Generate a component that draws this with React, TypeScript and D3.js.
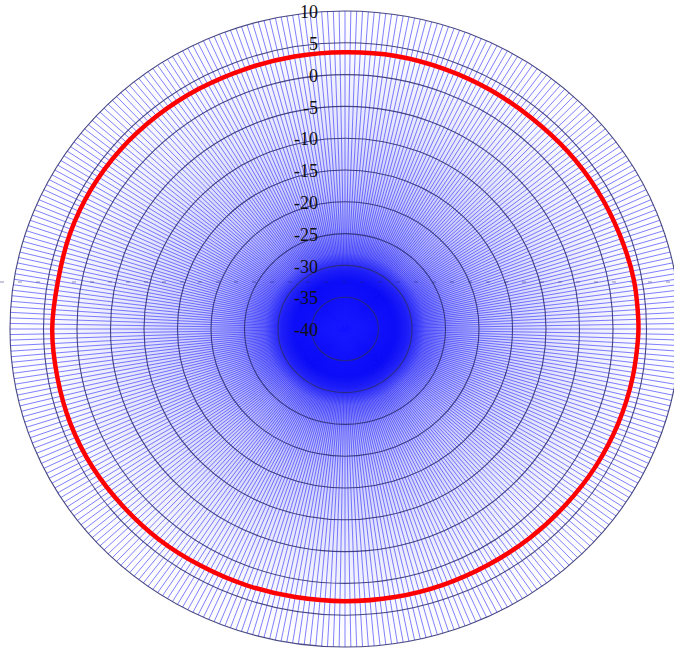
import React, { useEffect, useRef } from "react";
import * as d3 from "d3";

// ---- data ----
const ringLevels = [-40, -35, -30, -25, -20, -15, -10, -5, 0, 5, 10];
const tickLabels = ["-40", "-35", "-30", "-25", "-20", "-15", "-10", "-5", "0", "5", "10"];
const spokeAngles = d3.range(0, 360, 1);
const patternAngles = [0, 10, 20, 30, 40, 50, 60, 70, 80, 90, 100, 110, 120, 130, 140, 150, 160, 170,
  180, 190, 200, 210, 220, 230, 240, 250, 260, 270, 280, 290, 300, 310, 320, 330, 340, 350];
const patternGain = [3.5, 3.6, 3.5, 3.4, 3.3, 3.4, 3.5, 3.6, 3.8, 3.8, 3.6, 3.4, 3.2, 3.0, 2.9, 2.8, 2.8, 2.8,
  2.8, 2.8, 2.9, 3.0, 3.2, 3.3, 3.5, 3.6, 3.6, 3.7, 3.5, 3.7, 3.8, 3.8, 3.7, 3.6, 3.5, 3.5];

const W = 674, H = 653;

export default function App() {
  const ref = useRef<SVGSVGElement>(null);
  useEffect(() => {
    const svg = d3.select(ref.current);
    svg.selectAll("*").remove();
    const cx = 345, cy = 329, RX = 335, RY = 318;
    const rho = d3.scaleLinear().domain([-40, 10]).range([0, 1]);
    const px = (a: number, v: number) => cx + RX * rho(v) * Math.sin((a * Math.PI) / 180);
    const py = (a: number, v: number) => cy - RY * rho(v) * Math.cos((a * Math.PI) / 180);

    const defs = svg.append("defs");
    const grad = defs.append("radialGradient").attr("id", "core");
    const stops: [number, number][] = [[0, 1], [0.15, 1], [0.19, 0.85], [0.24, 0.5], [0.32, 0.32], [0.45, 0.2], [0.65, 0.1], [0.85, 0.03], [1, 0]];
    stops.forEach(([o, op]) => grad.append("stop").attr("offset", o).attr("stop-color", "#0000f0").attr("stop-opacity", op));

    const g = svg.append("g");
    g.append("ellipse").attr("cx", cx).attr("cy", cy).attr("rx", RX).attr("ry", RY).attr("fill", "url(#core)");
    // spokes
    g.selectAll("line.spoke").data(spokeAngles).join("line")
      .attr("x1", cx).attr("y1", cy)
      .attr("x2", (a) => px(a, 10)).attr("y2", (a) => py(a, 10))
      .attr("stroke", "#1a1aff").attr("stroke-opacity", 0.55).attr("stroke-width", 1);
    // rings
    g.selectAll("ellipse.ring").data(ringLevels.filter((v) => v > -40)).join("ellipse")
      .attr("cx", cx).attr("cy", cy)
      .attr("rx", (v) => RX * rho(v)).attr("ry", (v) => RY * rho(v))
      .attr("fill", "none").attr("stroke", "#2a2a70").attr("stroke-opacity", 0.85).attr("stroke-width", 1.1);
    // dotted horizontal artifact
    g.append("line").attr("x1", 0).attr("x2", W).attr("y1", 282).attr("y2", 282)
      .attr("stroke", "#202070").attr("stroke-width", 1).attr("stroke-dasharray", "4,14").attr("stroke-opacity", 0.5);
    // pattern
    const pts: [number, number][] = patternAngles.map((a, i) => [px(a, patternGain[i]), py(a, patternGain[i])]);
    const line = d3.line().curve(d3.curveCardinalClosed.tension(0.2));
    g.append("path").attr("d", line(pts) as string)
      .attr("fill", "none").attr("stroke", "#ff0000").attr("stroke-width", 4.5);
    // labels
    g.selectAll("text.lab").data(ringLevels).join("text")
      .attr("x", 318).attr("y", (v) => py(0, v) + 3)
      .attr("text-anchor", "end").attr("dominant-baseline", "middle")
      .attr("font-family", "'Liberation Serif', serif").attr("font-size", 18).attr("fill", "#111")
      .text((v, i) => tickLabels[i]);
  }, []);
  return (
    <svg ref={ref} width={W} height={H} style={{ position: "absolute", left: 0, top: 0, background: "#fff" }} />
  );
}
